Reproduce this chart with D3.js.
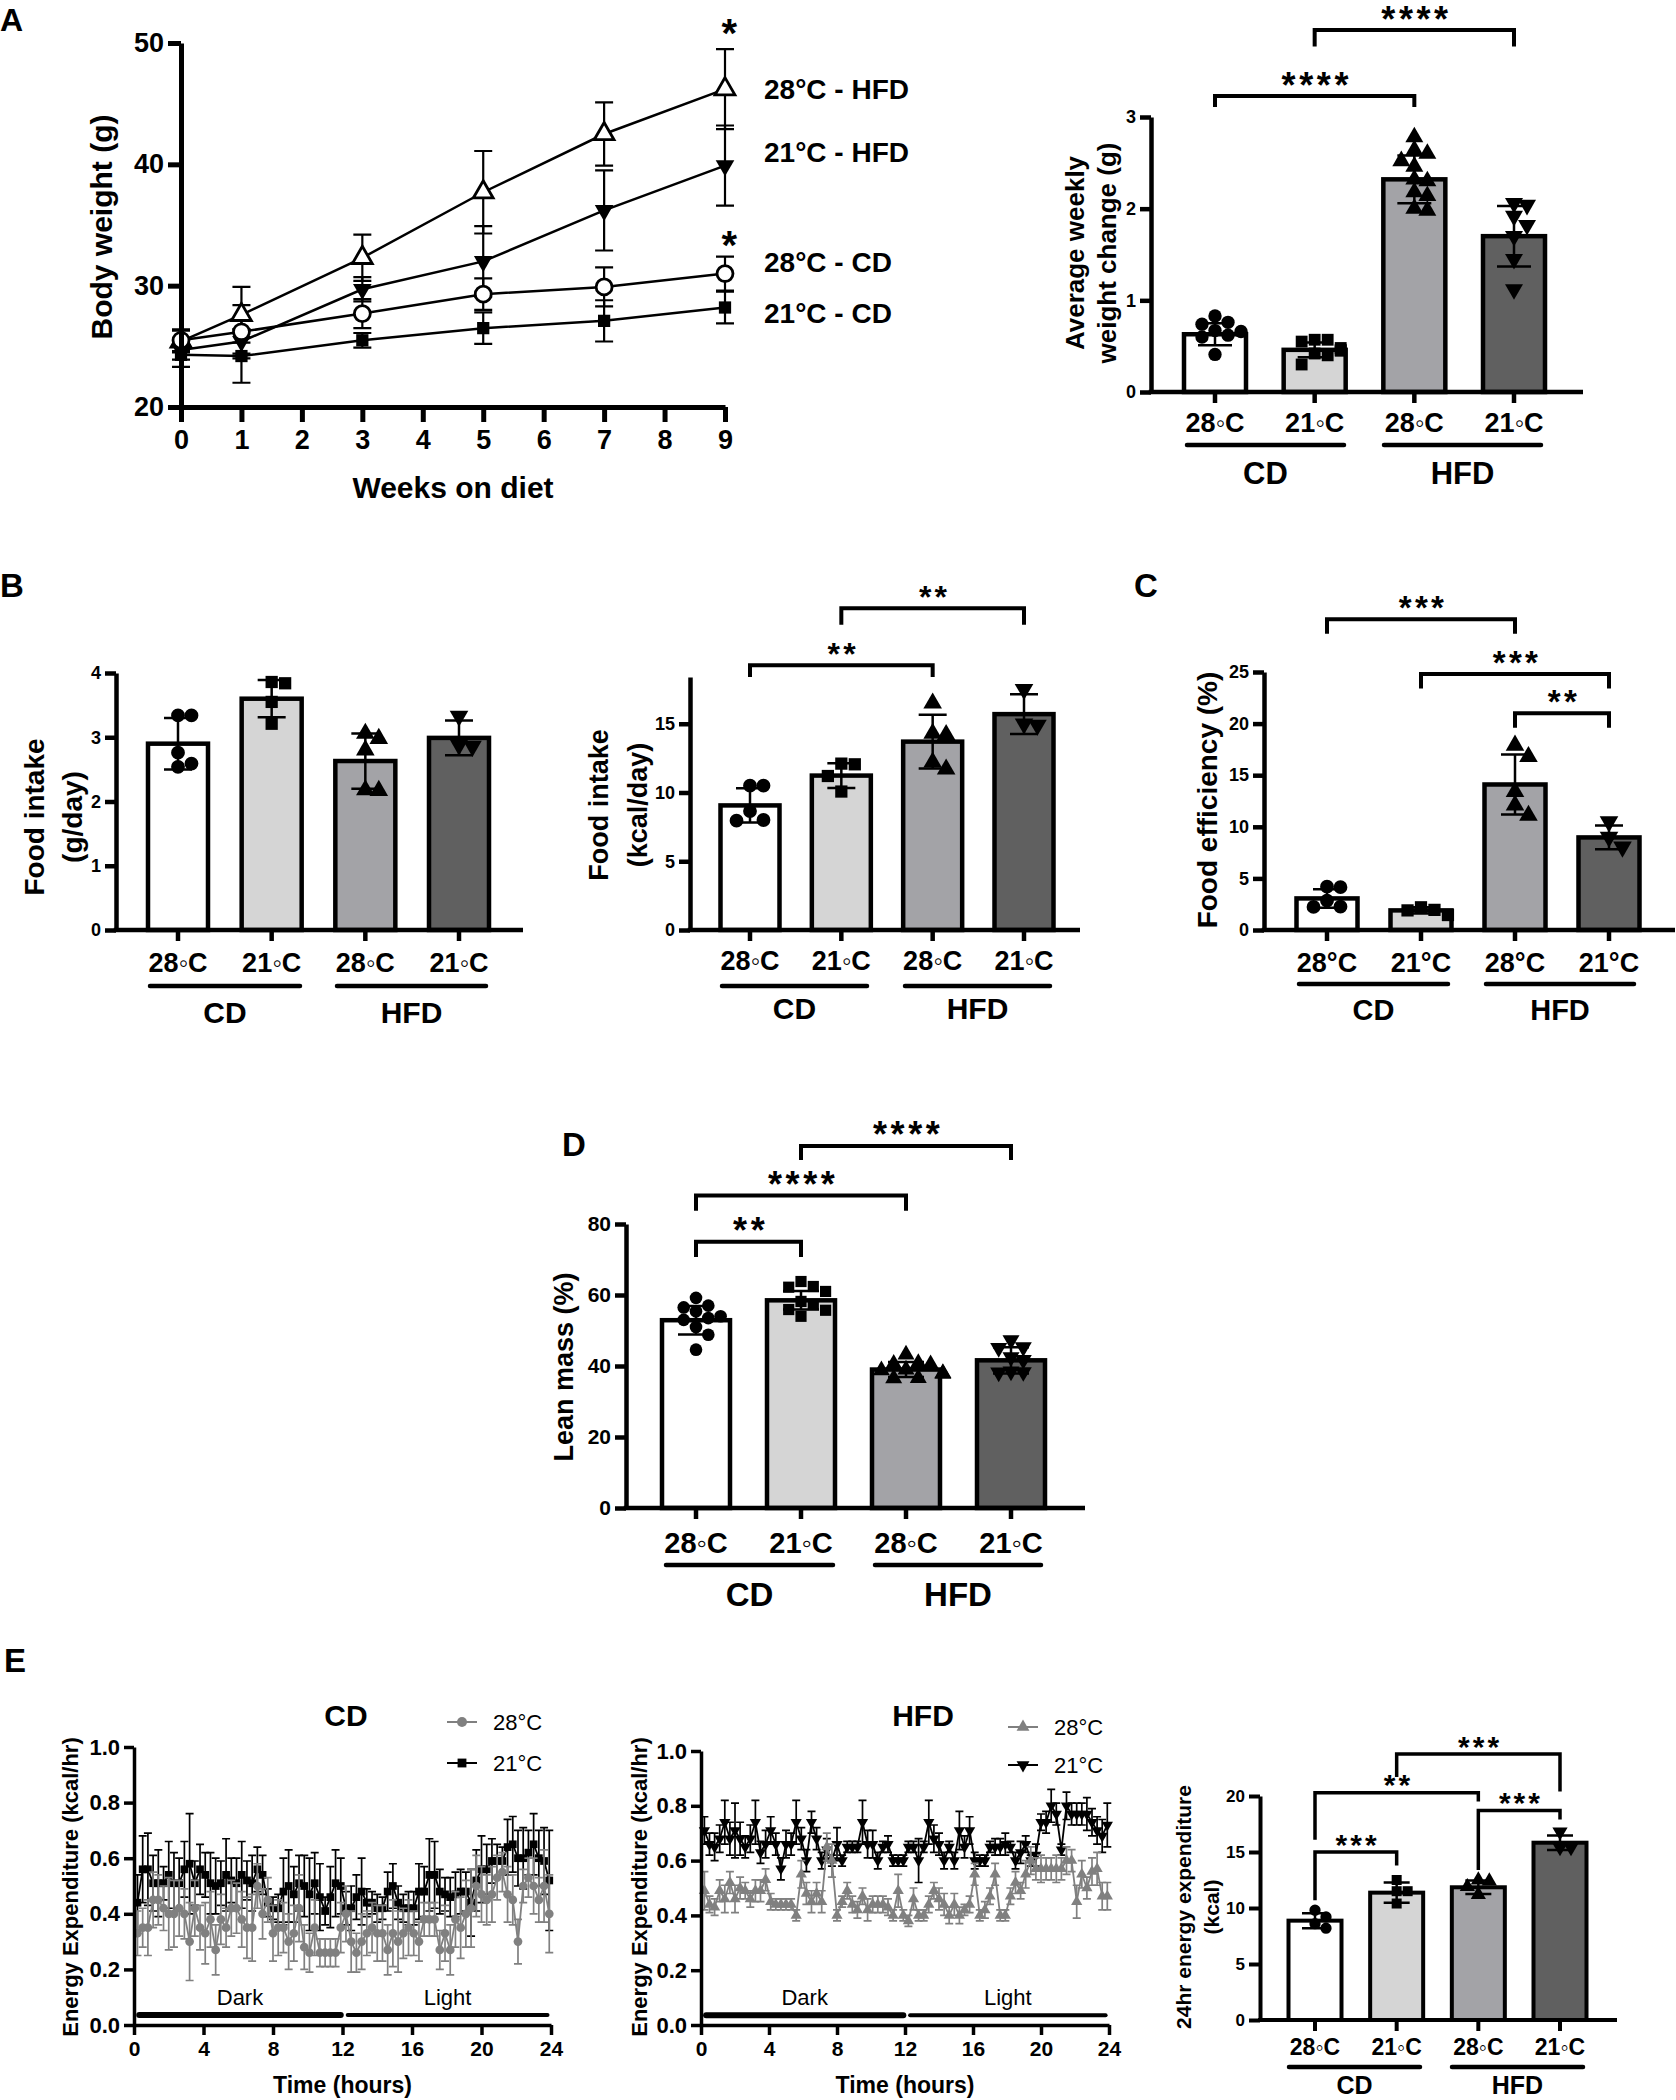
<!DOCTYPE html>
<html><head><meta charset="utf-8">
<script src="https://cdn.jsdelivr.net/npm/d3@7"></script>
<style>body{margin:0;background:#fff}svg{display:block}</style>
</head><body>
<script>
// ---------------- DATA ----------------
// Panel A (left): body weight over weeks
const weeks = [0,1,3,5,7,9];
const bw28HFD = [25.4,27.6,32.3,37.7,42.5,46.2];
const bw28HFDsd = [0.9,2.3,1.9,3.4,2.6,3.3];
const bw21HFD = [24.7,25.4,29.7,32.0,36.2,39.9];
const bw21HFDsd = [0.8,1.0,1.0,2.9,3.3,3.3];
const bw28CD = [25.5,26.2,27.7,29.3,29.9,31.0];
const bw28CDsd = [0.9,2.2,1.2,1.3,1.6,1.4];
const bw21CD = [24.3,24.2,25.5,26.5,27.1,28.2];
const bw21CDsd = [1.0,2.2,0.6,1.3,1.7,1.3];
const seriesLabels = ["28°C - HFD","21°C - HFD","28°C - CD","21°C - CD"];
const bwTicksY = [20,30,40,50];
const bwTicksX = [0,1,2,3,4,5,6,7,8,9];

// Bar-chart groups
const groupKeys = ["28CD","21CD","28HFD","21HFD"];
const groupLabels = ["28◦C","21◦C","28◦C","21◦C"];
const groupLabelsC = ["28°C","21°C","28°C","21°C"];
const dietLabels = ["CD","HFD"];

// Panel A (right): average weekly weight change
const awMean = [0.63,0.46,2.32,1.70];
const awSD = [0.12,0.08,0.26,0.33];
const awPts = [[0.83,0.76,0.74,0.67,0.66,0.62,0.60,0.41],
               [0.57,0.57,0.55,0.48,0.46,0.45,0.42,0.40,0.30],
               [2.78,2.64,2.60,2.52,2.46,2.32,2.30,2.18,2.14,2.00,1.98],
               [2.06,2.04,1.92,1.82,1.70,1.45,1.12]];
const awBr = [{a:0,b:2,y:3.23,l:3.11,r:3.11,t:"****"},{a:1,b:3,y:3.95,l:3.77,r:3.77,t:"****"}];

// Panel B: food intake g/day
const fiMean = [2.90,3.60,2.63,2.99];
const fiSD = [0.40,0.29,0.43,0.27];
const fiPts = [[3.34,3.34,2.76,2.59,2.54],[3.86,3.84,3.55,3.21],[3.06,2.98,2.80,2.18,2.17],[3.33,2.88,2.86]];

// Panel B: food intake kcal/day
const fkMean = [9.06,11.23,13.7,15.7];
const fkSD = [1.25,0.9,1.95,1.45];
const fkPts = [[10.5,10.5,8.65,8.0,7.95],[12.1,12.05,11.2,10.07],[16.5,14.3,14.2,12.2,11.7],[17.5,15.0,14.9]];
const fkBr = [{a:0,b:2,y:19.25,l:18.4,r:18.4,t:"**"},{a:1,b:3,y:23.4,l:22.2,r:22.2,t:"**"}];

// Panel C: food efficiency
const feMean = [3.06,1.9,14.1,8.97];
const feSD = [0.9,0.3,2.9,1.15];
const fePts = [[4.2,4.15,2.84,2.26,2.24],[2.2,1.95,1.9,1.45],[17.9,16.8,13.4,12.1,11.1],[10.5,9.0,8.05]];
const feBr = [{a:0,b:2,y:30.1,l:28.7,r:28.7,t:"***"},{a:1,b:3,y:24.8,l:23.4,r:23.4,t:"***"},{a:2,b:3,y:21.0,l:19.6,r:19.6,t:"**"}];

// Panel D: lean mass
const lmMean = [52.9,58.5,39.0,41.6];
const lmSD = [4.0,2.6,2.1,3.7];
const lmPts = [[59.2,57.0,56.5,55.4,54.0,53.5,53.0,51.0,48.8,44.6],
               [63.8,62.4,62.2,61.0,58.2,57.3,55.9,55.7,54.0],
               [43.2,40.8,40.6,40.5,39.0,38.8,38.0,37.8,36.6,36.5],
               [47.3,45.3,45.1,42.5,41.7,38.5,38.3,38.2]];
const lmBr = [{a:0,b:1,y:75,l:70.7,r:70.7,t:"**"},{a:0,b:2,y:88,l:83.7,r:83.7,t:"****"},{a:1,b:3,y:102,l:98,r:98,t:"****"}];

// Panel E: 24 h energy expenditure
const eeMean = [8.87,11.37,11.85,15.83];
const eeSD = [0.67,0.9,0.6,0.65];
const eePts = [[9.8,9.2,8.6,8.2],[12.5,11.5,11.5,10.4],[12.5,12.4,11.9,11.2],[16.8,15.4,15.4]];
const eeBr = [{a:0,b:1,y:15.0,l:10.7,r:13.8,t:"***"},{a:0,b:2,y:20.3,l:16.1,r:19.5,t:"**"},{a:2,b:3,y:18.7,l:13.4,r:17.9,t:"***"},{a:1,b:3,y:23.75,l:21.7,r:20.4,t:"***"}];

// Panel E: energy expenditure time course (kcal/hr), sampled every ~18 min
const TS_START = 0.2, TS_STEP = 0.3;
const tsTicksX = [0,4,8,12,16,20,24];
const tsTicksY = [0,0.2,0.4,0.6,0.8,1.0];
const cd28 = [0.33,0.35,0.35,0.45,0.45,0.42,0.40,0.40,0.42,0.40, 0.30,0.42,0.35,0.33,0.38,0.27,0.38,0.35,0.42,0.42,
              0.38,0.35,0.35,0.50,0.40,0.45,0.33,0.35,0.35,0.30, 0.33,0.42,0.28,0.26,0.35,0.26,0.26,0.26,0.26,0.35,
              0.40,0.30,0.26,0.30,0.33,0.35,0.33,0.33,0.27,0.33, 0.30,0.33,0.35,0.33,0.30,0.38,0.38,0.38,0.27,0.33,
              0.27,0.38,0.35,0.40,0.42,0.50,0.47,0.45,0.47,0.53, 0.55,0.47,0.45,0.30,0.50,0.53,0.50,0.45,0.50,0.40];
const cd28e = [0.08,0.07,0.10,0.10,0.09,0.08,0.13,0.12,0.10,0.09, 0.14,0.10,0.08,0.11,0.10,0.09,0.09,0.07,0.10,0.09,
               0.10,0.11,0.12,0.08,0.09,0.08,0.10,0.10,0.09,0.10, 0.10,0.12,0.08,0.07,0.10,0.05,0.05,0.05,0.05,0.09,
               0.10,0.11,0.07,0.10,0.08,0.09,0.10,0.10,0.09,0.12, 0.11,0.09,0.10,0.08,0.07,0.06,0.06,0.06,0.07,0.10,
               0.09,0.10,0.11,0.12,0.14,0.11,0.10,0.09,0.10,0.08, 0.07,0.10,0.09,0.08,0.06,0.07,0.10,0.08,0.13,0.14];
const cd21 = [0.44,0.56,0.56,0.51,0.51,0.51,0.54,0.51,0.51,0.56, 0.58,0.51,0.56,0.54,0.51,0.50,0.51,0.54,0.52,0.51,
              0.54,0.52,0.51,0.56,0.54,0.44,0.42,0.42,0.48,0.50, 0.47,0.51,0.50,0.47,0.51,0.46,0.41,0.46,0.51,0.50,
              0.42,0.42,0.46,0.48,0.44,0.44,0.42,0.42,0.48,0.50, 0.44,0.42,0.42,0.42,0.48,0.48,0.54,0.54,0.48,0.47,
              0.46,0.47,0.48,0.48,0.44,0.52,0.56,0.56,0.59,0.59, 0.59,0.64,0.65,0.60,0.60,0.62,0.65,0.60,0.59,0.52];
const cd21e = [0.10,0.12,0.13,0.10,0.12,0.06,0.12,0.11,0.09,0.10, 0.18,0.08,0.09,0.08,0.11,0.10,0.08,0.13,0.08,0.09,
               0.12,0.07,0.10,0.08,0.07,0.05,0.04,0.05,0.12,0.13, 0.10,0.10,0.11,0.13,0.11,0.12,0.05,0.11,0.12,0.10,
               0.06,0.08,0.08,0.12,0.05,0.04,0.05,0.04,0.07,0.08, 0.06,0.05,0.06,0.06,0.10,0.09,0.13,0.12,0.08,0.06,
               0.07,0.08,0.08,0.07,0.12,0.11,0.12,0.09,0.08,0.06, 0.05,0.10,0.10,0.10,0.11,0.08,0.11,0.10,0.12,0.18];
const hfd28 = [0.49,0.44,0.43,0.49,0.46,0.52,0.46,0.50,0.49,0.46, 0.49,0.49,0.53,0.45,0.44,0.44,0.44,0.44,0.40,0.55,
               0.48,0.45,0.48,0.45,0.65,0.60,0.40,0.45,0.49,0.44, 0.42,0.47,0.42,0.44,0.44,0.44,0.43,0.40,0.49,0.40,
               0.38,0.46,0.40,0.40,0.44,0.49,0.46,0.44,0.40,0.44, 0.40,0.42,0.44,0.55,0.40,0.42,0.47,0.55,0.40,0.40,
               0.47,0.52,0.49,0.55,0.60,0.57,0.57,0.57,0.57,0.57, 0.57,0.60,0.60,0.45,0.55,0.50,0.56,0.57,0.47,0.47];
const hfd28e = [0.07,0.03,0.03,0.04,0.05,0.04,0.05,0.04,0.03,0.03, 0.04,0.04,0.04,0.03,0.02,0.02,0.02,0.02,0.02,0.05,
                0.04,0.04,0.04,0.04,0.05,0.06,0.02,0.02,0.03,0.03, 0.03,0.03,0.04,0.03,0.03,0.03,0.03,0.02,0.06,0.02,
                0.02,0.04,0.02,0.02,0.03,0.03,0.04,0.04,0.03,0.04, 0.03,0.02,0.03,0.04,0.02,0.03,0.03,0.04,0.02,0.02,
                0.03,0.04,0.03,0.05,0.05,0.04,0.05,0.04,0.04,0.05, 0.04,0.05,0.04,0.06,0.05,0.04,0.05,0.06,0.05,0.05];
const hfd21 = [0.71,0.66,0.65,0.68,0.74,0.68,0.71,0.68,0.65,0.68, 0.74,0.63,0.66,0.71,0.66,0.57,0.66,0.66,0.74,0.68,
               0.60,0.74,0.68,0.60,0.64,0.60,0.66,0.60,0.65,0.65, 0.65,0.74,0.66,0.66,0.60,0.65,0.66,0.60,0.60,0.60,
               0.65,0.65,0.60,0.65,0.74,0.68,0.66,0.60,0.65,0.60, 0.71,0.65,0.71,0.60,0.60,0.60,0.65,0.65,0.65,0.66,
               0.65,0.60,0.63,0.66,0.60,0.62,0.74,0.74,0.80,0.77, 0.64,0.80,0.77,0.77,0.77,0.77,0.74,0.71,0.69,0.73];
const hfd21e = [0.05,0.04,0.05,0.05,0.08,0.06,0.10,0.06,0.04,0.05, 0.08,0.04,0.05,0.05,0.04,0.04,0.05,0.04,0.08,0.04,
                0.04,0.04,0.04,0.03,0.04,0.02,0.06,0.02,0.02,0.02, 0.02,0.08,0.05,0.05,0.03,0.02,0.03,0.02,0.02,0.02,
                0.02,0.02,0.08,0.02,0.08,0.05,0.04,0.03,0.02,0.03, 0.07,0.04,0.05,0.03,0.02,0.02,0.02,0.03,0.03,0.04,
                0.02,0.03,0.04,0.03,0.02,0.04,0.03,0.04,0.06,0.04, 0.02,0.05,0.04,0.04,0.04,0.06,0.05,0.05,0.06,0.08];
const legendLabels = ["28°C","21°C"];
const phaseLabels = ["Dark","Light"];
const phaseStart = [0.3,12.3];
const phaseEnd = [11.9,23.8];

// ---------------- DRAWING ----------------
const FONT = "'Liberation Sans', Arial, Helvetica, sans-serif";
const barFill = ["#ffffff","#d5d5d5","#a3a3a7","#606060"];
const barSym = ["circle","square","tri","tridown"];
const svg = d3.select("body").append("svg").attr("width",1676).attr("height",2100)
  .style("font-family", FONT);
svg.append("rect").attr("width",1676).attr("height",2100).attr("fill","#fff");

function txt(g, x, y, s, size, o = {}) {
  const t = g.append("text").attr("x", x).attr("y", y).text(s)
    .attr("font-size", size).attr("font-weight", o.weight || "bold")
    .attr("text-anchor", o.anchor || "middle").attr("fill", o.fill || "#000")
    .attr("font-family", FONT);
  if (o.ls) t.attr("letter-spacing", o.ls);
  if (o.rot) t.attr("transform", `rotate(-90,${x},${y})`).attr("dy", "0.35em");
  return t;
}
function symPath(type, size) {
  const t = (type === "circle") ? d3.symbolCircle : (type === "square") ? d3.symbolSquare : d3.symbolTriangle;
  return d3.symbol().type(t).size(size)();
}
function symTransform(type, x, y) {
  return type === "tridown" ? `translate(${x},${y}) rotate(180)` : `translate(${x},${y})`;
}
function styleAxis(sel, sw, font) {
  sel.attr("font-family", FONT);
  sel.select(".domain").attr("stroke-width", sw).attr("stroke", "#000");
  sel.selectAll(".tick line").attr("stroke-width", sw).attr("stroke", "#000");
  sel.selectAll(".tick text").attr("font-size", font).attr("font-weight", "bold").attr("fill", "#000");
}
function swarm(vals, y, cx, d, maxOff) {
  const placed = [], res = new Array(vals.length);
  const order = vals.map((v, i) => i).sort((a, b) => vals[b] - vals[a]);
  order.forEach(i => {
    const py = y(vals[i]);
    let k = 0, px;
    while (true) {
      const off = k === 0 ? 0 : (k % 2 ? 1 : -1) * Math.ceil(k / 2) * d;
      px = cx + off;
      const ok = placed.every(p => (p[0] - px) ** 2 + (p[1] - py) ** 2 >= d * d * 0.9);
      if (ok || Math.abs(off) > maxOff) break;
      k++;
    }
    placed.push([px, py]); res[i] = [px, py];
  });
  return res;
}
// significance asterisks, centred (approximately) on yc
function stars(g, x, yc, s, size) {
  return txt(g, x + size * 0.06, yc + 0.56 * size, s, size, {ls: size * 0.1});
}

function barPanel(o) {
  const g = svg.append("g");
  const n = groupKeys.length;
  const step = (o.cN - o.c0) / (n - 1);
  const pi = 1 - o.bw / step;
  const po = (o.c0 - o.x0 - o.bw / 2) / step;
  const xs = d3.scaleBand().domain(groupKeys).range([o.x0, o.x0 + step * (n - pi + 2 * po)])
    .paddingInner(pi).paddingOuter(po);
  const bw = xs.bandwidth();
  const cx = k => xs(k) + bw / 2;
  const y = d3.scaleLinear().domain([0, o.ymax]).range([o.yBase, o.yTop]);
  const sw = o.asw || 4.5;

  g.selectAll("rect.bar").data(groupKeys).join("rect").attr("class", "bar")
    .attr("x", k => xs(k)).attr("width", bw)
    .attr("y", (k, i) => y(o.means[i])).attr("height", (k, i) => y(0) - y(o.means[i]))
    .attr("fill", (k, i) => barFill[i]).attr("stroke", "#000").attr("stroke-width", o.bsw || 4.5);

  const d = Math.sqrt(o.markSize) * 1.1;
  groupKeys.forEach((k, i) => {
    const pos = swarm(o.pts[i], y, cx(k), d, bw / 2 - d / 2);
    g.append("g").selectAll("path").data(pos).join("path")
      .attr("d", symPath(barSym[i], o.markSize))
      .attr("transform", p => symTransform(barSym[i], p[0], p[1]))
      .attr("fill", "#000");
  });

  groupKeys.forEach((k, i) => {
    const x = cx(k), hi = y(o.means[i] + o.sds[i]), lo = y(o.means[i] - o.sds[i]);
    g.append("path").attr("d", `M${x},${lo}V${hi}M${x - o.capW / 2},${hi}h${o.capW}M${x - o.capW / 2},${lo}h${o.capW}`)
      .attr("stroke", "#000").attr("stroke-width", 2.5).attr("fill", "none");
  });

  const ya = g.append("g").attr("transform", `translate(${o.x0},0)`)
    .call(d3.axisLeft(y).tickValues(o.ticks).tickSize(o.tickLen || 11).tickPadding(o.tickPad || 4).tickSizeOuter(0).tickFormat(d3.format("d")));
  styleAxis(ya, sw, o.tickFont || 18);
  g.append("line").attr("x1", o.x0 - sw / 2).attr("x2", o.x1).attr("y1", o.yBase).attr("y2", o.yBase)
    .attr("stroke", "#000").attr("stroke-width", sw);
  const xa = g.append("g").attr("transform", `translate(0,${o.yBase})`)
    .call(d3.axisBottom(xs).tickSize(o.tickLen || 11).tickFormat(""));
  xa.select(".domain").remove();
  xa.selectAll(".tick line").attr("stroke", "#000").attr("stroke-width", sw);
  const labs = o.labels || groupLabels;
  groupKeys.forEach((k, i) => txt(g, cx(k), o.xlabY, labs[i], o.xlabFont || 27));
  [o.cd, o.hfd].forEach((r, i) => {
    g.append("line").attr("x1", r[0]).attr("x2", r[1]).attr("y1", o.ulY).attr("y2", o.ulY)
      .attr("stroke", "#000").attr("stroke-width", 4.5).attr("stroke-linecap", "round");
    txt(g, (r[0] + r[1]) / 2, o.dietY, dietLabels[i], o.dietFont || 30);
  });
  o.ylab.forEach(l => txt(g, l.x, o.ylabY, l.t, o.ylabFont || 27, {rot: true}));
  const sf = o.sigFont || 34, gap = o.sigGap || 19;
  (o.brackets || []).forEach(b => {
    const xa_ = cx(groupKeys[b.a]), xb_ = cx(groupKeys[b.b]);
    g.append("path").attr("d", `M${xa_},${y(b.l)}V${y(b.y)}H${xb_}V${y(b.r)}`)
      .attr("fill", "none").attr("stroke", "#000").attr("stroke-width", o.brw || 4);
    stars(g, (xa_ + xb_) / 2, y(b.y) - gap, b.t, sf);
  });
}

// ---------- Panel labels ----------
txt(svg, 0, 31, "A", 32, {anchor: "start"});
txt(svg, 0, 597, "B", 33, {anchor: "start"});
txt(svg, 1134, 597, "C", 33, {anchor: "start"});
txt(svg, 562, 1156, "D", 33, {anchor: "start"});
txt(svg, 4, 1672, "E", 33, {anchor: "start"});

// ---------- Panel A left: body weight ----------
(function () {
  const g = svg.append("g");
  const x = d3.scaleLinear().domain([0, 9]).range([181, 725]);
  const y = d3.scaleLinear().domain([20, 50]).range([407, 43]);
  const series = [
    {v: bw28HFD, e: bw28HFDsd, s: "tri", open: true, size: 170},
    {v: bw21HFD, e: bw21HFDsd, s: "tridown", open: false, size: 150},
    {v: bw28CD, e: bw28CDsd, s: "circle", open: true, size: 200},
    {v: bw21CD, e: bw21CDsd, s: "square", open: false, size: 150}
  ];
  const cap = 9;
  series.forEach(sr => {
    const pts = weeks.map((w, i) => ({w, v: sr.v[i], e: sr.e[i]}));
    g.append("g").selectAll("path").data(pts).join("path")
      .attr("d", p => `M${x(p.w)},${y(p.v - p.e)}V${y(p.v + p.e)}M${x(p.w) - cap},${y(p.v + p.e)}h${2 * cap}M${x(p.w) - cap},${y(p.v - p.e)}h${2 * cap}`)
      .attr("stroke", "#000").attr("stroke-width", 2.2).attr("fill", "none");
    g.append("path").datum(pts).attr("d", d3.line().x(p => x(p.w)).y(p => y(p.v)))
      .attr("fill", "none").attr("stroke", "#000").attr("stroke-width", 2.5);
  });
  series.forEach(sr => {
    const pts = weeks.map((w, i) => ({w, v: sr.v[i]}));
    g.append("g").selectAll("path").data(pts).join("path")
      .attr("d", symPath(sr.s, sr.size))
      .attr("transform", p => symTransform(sr.s, x(p.w), y(p.v)))
      .attr("fill", sr.open ? "#fff" : "#000").attr("stroke", "#000").attr("stroke-width", sr.open ? 2.8 : 0);
  });
  const ya = g.append("g").attr("transform", "translate(181,0)")
    .call(d3.axisLeft(y).tickValues(bwTicksY).tickSize(13).tickPadding(4).tickSizeOuter(0));
  styleAxis(ya, 5, 27);
  const xa = g.append("g").attr("transform", "translate(0,407)")
    .call(d3.axisBottom(x).tickValues(bwTicksX).tickSize(15).tickPadding(8).tickSizeOuter(0));
  styleAxis(xa, 5, 27);
  txt(g, 453, 498, "Weeks on diet", 30);
  txt(g, 101, 227, "Body weight (g)", 30, {rot: true});
  const ly = [99, 162, 272, 323];
  seriesLabels.forEach((s, i) => txt(g, 764, ly[i], s, 28, {anchor: "start"}));
  stars(g, 729, 25, "*", 40);
  stars(g, 729, 237, "*", 40);
})();

// ---------- Panel A right ----------
barPanel({x0: 1151, x1: 1583, c0: 1215, cN: 1514, bw: 62, yBase: 392, yTop: 117, ymax: 3, ticks: [0, 1, 2, 3],
  means: awMean, sds: awSD, pts: awPts, markSize: 140, capW: 34, tickFont: 18,
  xlabY: 432, xlabFont: 27, ulY: 445, cd: [1187, 1344], hfd: [1384, 1541], dietY: 484, dietFont: 31,
  ylab: [{t: "Average weekly", x: 1075}, {t: "weight change (g)", x: 1107}], ylabY: 253, ylabFont: 26,
  brackets: awBr, sigFont: 36, sigGap: 18});

// ---------- Panel B left ----------
barPanel({x0: 116, x1: 523, c0: 178, cN: 459, bw: 60, yBase: 930, yTop: 673, ymax: 4, ticks: [0, 1, 2, 3, 4],
  means: fiMean, sds: fiSD, pts: fiPts, markSize: 150, capW: 28, tickFont: 18,
  xlabY: 972, xlabFont: 27, ulY: 986, cd: [150, 300], hfd: [337, 486], dietY: 1023, dietFont: 30,
  ylab: [{t: "Food intake", x: 34}, {t: "(g/day)", x: 72}], ylabY: 817, ylabFont: 28, brackets: []});

// ---------- Panel B right ----------
barPanel({x0: 690, x1: 1080, c0: 750, cN: 1024, bw: 59, yBase: 930, yTop: 677, ymax: 18.4, ticks: [0, 5, 10, 15],
  means: fkMean, sds: fkSD, pts: fkPts, markSize: 150, capW: 28, tickFont: 18,
  xlabY: 970, xlabFont: 27, ulY: 986, cd: [722, 867], hfd: [905, 1050], dietY: 1019, dietFont: 30,
  ylab: [{t: "Food intake", x: 599}, {t: "(kcal/day)", x: 638}], ylabY: 805, ylabFont: 27,
  brackets: fkBr, sigFont: 32, sigGap: 18});

// ---------- Panel C ----------
barPanel({x0: 1264, x1: 1675, c0: 1327, cN: 1609, bw: 61, yBase: 930, yTop: 672, ymax: 25, ticks: [0, 5, 10, 15, 20, 25],
  means: feMean, sds: feSD, pts: fePts, markSize: 150, capW: 28, tickFont: 18, labels: groupLabelsC,
  xlabY: 972, xlabFont: 27, ulY: 984, cd: [1299, 1448], hfd: [1486, 1634], dietY: 1020, dietFont: 29,
  ylab: [{t: "Food efficiency (%)", x: 1207}], ylabY: 800, ylabFont: 28,
  brackets: feBr, sigFont: 33, sigGap: 19});

// ---------- Panel D ----------
barPanel({x0: 626, x1: 1085, c0: 696, cN: 1011, bw: 68, yBase: 1508, yTop: 1224, ymax: 80, ticks: [0, 20, 40, 60, 80],
  means: lmMean, sds: lmSD, pts: lmPts, markSize: 125, capW: 36, tickFont: 21,
  xlabY: 1553, xlabFont: 29, ulY: 1565, cd: [666, 833], hfd: [875, 1041], dietY: 1606, dietFont: 33,
  ylab: [{t: "Lean mass (%)", x: 564}], ylabY: 1367, ylabFont: 27,
  brackets: lmBr, sigFont: 36, sigGap: 19});

// ---------- Panel E bars ----------
barPanel({x0: 1260, x1: 1617, c0: 1315, cN: 1560, bw: 53, yBase: 2020, yTop: 1796, ymax: 20, ticks: [0, 5, 10, 15, 20],
  means: eeMean, sds: eeSD, pts: eePts, markSize: 100, capW: 26, tickFont: 17, asw: 4, bsw: 4,
  xlabY: 2055, xlabFont: 23, ulY: 2067, cd: [1289, 1420], hfd: [1452, 1583], dietY: 2094, dietFont: 25,
  ylab: [{t: "24hr energy expenditure", x: 1184}, {t: "(kcal)", x: 1212}], ylabY: 1907, ylabFont: 21,
  brackets: eeBr, sigFont: 30, sigGap: 14, brw: 3.5});

// ---------- Panel E time courses ----------
const tsTimes = cd28.map((v, i) => TS_START + i * TS_STEP);
function tsPanel(o) {
  const g = svg.append("g");
  const x = d3.scaleLinear().domain([0, 24]).range([o.x0, o.x24]);
  const y = d3.scaleLinear().domain([0, 1]).range([o.y0, o.y1]);
  const cap = 4;
  o.series.forEach(s => {
    const pts = s.v.map((v, i) => ({t: tsTimes[i], v, e: s.e[i]}));
    g.append("g").selectAll("path").data(pts).join("path")
      .attr("d", p => `M${x(p.t)},${y(p.v - p.e)}V${y(p.v + p.e)}M${x(p.t) - cap},${y(p.v + p.e)}h${2 * cap}M${x(p.t) - cap},${y(p.v - p.e)}h${2 * cap}`)
      .attr("stroke", s.color).attr("stroke-width", 1.7).attr("fill", "none");
    g.append("path").datum(pts).attr("d", d3.line().x(p => x(p.t)).y(p => y(p.v)))
      .attr("fill", "none").attr("stroke", s.color).attr("stroke-width", 1.8);
    g.append("g").selectAll("path").data(pts).join("path")
      .attr("d", symPath(s.sym, s.size))
      .attr("transform", p => symTransform(s.sym, x(p.t), y(p.v)))
      .attr("fill", s.color);
  });
  const ya = g.append("g").attr("transform", `translate(${o.x0},0)`)
    .call(d3.axisLeft(y).tickValues(tsTicksY).tickSize(10).tickPadding(4).tickSizeOuter(0).tickFormat(d3.format(".1f")));
  styleAxis(ya, 3.5, 22);
  const xa = g.append("g").attr("transform", `translate(0,${o.y0})`)
    .call(d3.axisBottom(x).tickValues(tsTicksX).tickSize(10).tickPadding(6).tickSizeOuter(0));
  styleAxis(xa, 3.5, 21);
  phaseLabels.forEach((p, i) => {
    g.append("line").attr("x1", x(phaseStart[i])).attr("x2", x(phaseEnd[i]))
      .attr("y1", y(0.036)).attr("y2", y(0.036)).attr("stroke", "#000")
      .attr("stroke-width", i === 0 ? 6 : 4).attr("stroke-linecap", "round");
    txt(g, x((phaseStart[i] + phaseEnd[i]) / 2), y(0.036) - 10, p, 22, {weight: "normal"});
  });
  txt(g, o.titleX, 1726, o.title, 30);
  txt(g, (o.x0 + o.x24) / 2, 2093, "Time (hours)", 23);
  txt(g, o.ylabX, 1887, "Energy Expenditure (kcal/hr)", 22, {rot: true});
  // legend: 28°C first, then 21°C
  o.series.forEach(s => {
    const ly = o.legY[s.leg];
    g.append("line").attr("x1", o.legX).attr("x2", o.legX + 30).attr("y1", ly).attr("y2", ly)
      .attr("stroke", s.color).attr("stroke-width", 2);
    g.append("path").attr("d", symPath(s.sym, s.size * 1.3))
      .attr("transform", symTransform(s.sym, o.legX + 15, ly)).attr("fill", s.color);
    txt(g, o.legX + 46, ly + 8, legendLabels[s.leg], 22, {anchor: "start", weight: "normal"});
  });
}
tsPanel({x0: 134, x24: 551, y0: 2025, y1: 1747, title: "CD", titleX: 346, ylabX: 70,
  legX: 447, legY: [1722, 1763],
  series: [{v: cd21, e: cd21e, color: "#000", sym: "square", size: 60, leg: 1},
           {v: cd28, e: cd28e, color: "#808080", sym: "circle", size: 60, leg: 0}]});
tsPanel({x0: 701, x24: 1109, y0: 2025, y1: 1751, title: "HFD", titleX: 923, ylabX: 639,
  legX: 1008, legY: [1727, 1765],
  series: [{v: hfd21, e: hfd21e, color: "#000", sym: "tridown", size: 55, leg: 1},
           {v: hfd28, e: hfd28e, color: "#808080", sym: "tri", size: 55, leg: 0}]});
</script>
</body></html>
